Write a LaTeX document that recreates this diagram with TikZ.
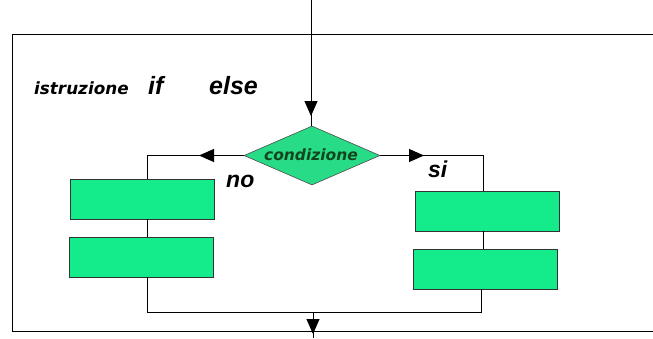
\documentclass[tikz,border=0pt]{standalone}
\usepackage{fontspec}
\setmainfont{Liberation Sans}
\newfontfamily\comicish{DejaVu Sans}
\usetikzlibrary{shapes.geometric,arrows.meta}
\definecolor{boxgreen}{RGB}{20,236,140}
\definecolor{decgreen}{RGB}{40,220,135}
\definecolor{txtgreen}{RGB}{20,70,30}
\tikzset{
  blk/.style={draw=black!80, line width=0.9pt, fill=boxgreen, minimum width=144pt, minimum height=40pt, inner sep=0pt},
  dec/.style={diamond, draw=black!70, line width=0.6pt, fill=decgreen, minimum width=136pt, minimum height=59pt, inner sep=0pt, aspect=2.3},
  ln/.style={line width=0.9pt, black},
  arr/.style={ln, -{Triangle[length=15pt,width=13pt]}},
  lbl/.style={inner sep=0pt}
}
\begin{document}
\begin{tikzpicture}[x=1pt,y=-1pt]
\useasboundingbox (0,0) rectangle (653,338);
\fill[white] (0,0) rectangle (653,338);
% frame
\coordinate (ftl) at (12,34);
\coordinate (ftr) at (653,34);
\coordinate (fbl) at (12,331);
\coordinate (fbr) at (653,331);
\draw[ln] (ftr) -- (ftl) -- (fbl) -- (fbr);
% texts
\node[lbl, font=\comicish\fontsize{16.8}{18}\selectfont\bfseries\itshape, anchor=base west] (t1) at (34,94) {istruzione};
\node[lbl, font=\fontsize{25}{28}\selectfont\bfseries\itshape, anchor=base west] (t2) at (148,94) {if};
\node[lbl, font=\fontsize{25}{28}\selectfont\bfseries\itshape, anchor=base west] (t3) at (209,94) {else};
% diamond
\node[dec] (d) at (312,155.5) {};
\node[font=\comicish\fontsize{15.5}{17}\selectfont\bfseries\itshape, text=txtgreen, inner sep=0pt] (dt) at (311,155) {condizione};
% boxes
\node[blk] (l1) at (142.5,199) {};
\node[blk] (l2) at (141,257) {};
\node[blk] (r1) at (487,211) {};
\node[blk] (r2) at (485.5,269) {};
% coordinates
\coordinate (top) at (311,0);
\coordinate (ta) at (311,116);
\coordinate (lc) at (147,155.5);
\coordinate (la) at (199,155.5);
\coordinate (rc) at (483,155.5);
\coordinate (ra) at (424,155.5);
\coordinate (lb) at (147,312);
\coordinate (rb) at (481,312);
\coordinate (mb) at (313,312);
\coordinate (ba) at (313,334);
\coordinate (bend) at (313,338);
% connectors
\draw[ln] (top) -- (top |- d.north);
\draw[arr] (top) -- (ta);
\draw[ln] (d.west) -- (lc) -- (l1.north -| lc);
\draw[arr] (d.west) -- (la);
\draw[ln] (d.east) -- (rc) -- (r1.north -| rc);
\draw[arr] (d.east) -- (ra);
\draw[ln] (l1.south -| lc) -- (l2.north -| lc);
\draw[ln] (r1.south -| rc) -- (r2.north -| rc);
\draw[ln] (l2.south -| lc) -- (lb) -- (rb) -- (r2.south -| rb);
\draw[ln] (mb) -- (bend);
\draw[arr] (mb) -- (ba);
% branch labels
\node[lbl, font=\fontsize{23}{25}\selectfont\bfseries\itshape, anchor=base west] (no) at (226,187) {no};
\node[lbl, font=\fontsize{23}{25}\selectfont\bfseries\itshape, anchor=base west] (si) at (428,177) {si};
\end{tikzpicture}
\end{document}
